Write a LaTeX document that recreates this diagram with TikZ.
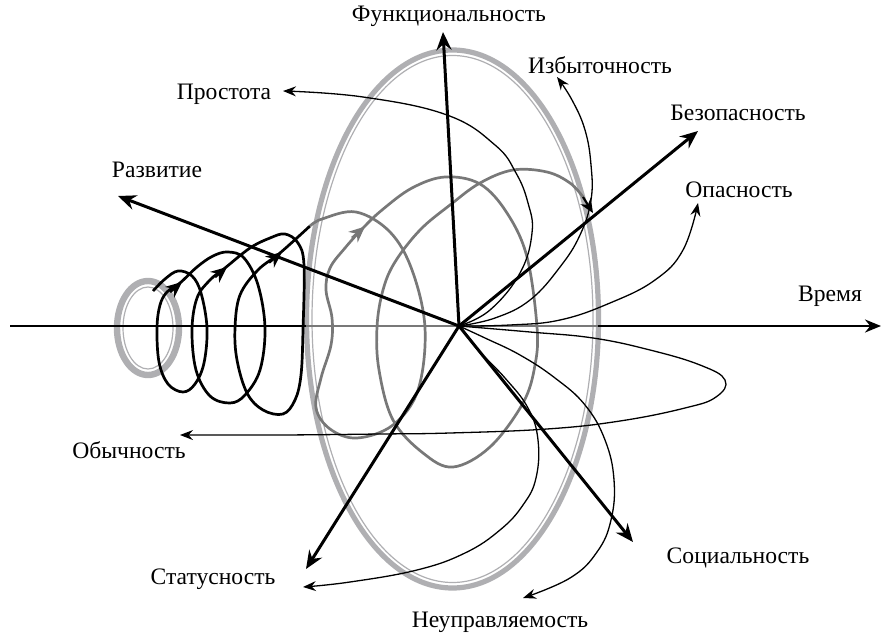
\documentclass[tikz,border=0pt]{standalone}
\usepackage{fontspec}
\setmainfont{Liberation Serif}
\usetikzlibrary{arrows.meta}
\definecolor{ringgray}{RGB}{175,175,178}
\definecolor{spiralgray}{RGB}{120,120,120}
\begin{document}
\begin{tikzpicture}[x=0.5pt,y=-0.5pt,
  ax/.style={line width=1.5pt, -{Stealth[length=9pt,width=7.5pt,inset=3pt]}},
  thinarr/.style={line width=0.65pt, -{Stealth[length=6.5pt,width=5pt,inset=2.2pt]}},
  lbl/.style={font=\fontsize{11.8}{14}\selectfont, inner sep=0pt},
  ringthick/.style={draw=ringgray, line width=2.6pt},
  ringthin/.style={draw=ringgray, line width=0.6pt},
  spb/.style={line width=1.35pt, draw=black},
  spg/.style={line width=1.35pt, draw=spiralgray},
  sptipb/.style={line width=1.35pt, black, -{Stealth[length=8pt,width=7pt,inset=2.6pt]}},
  sptipg/.style={line width=1.35pt, spiralgray, -{Stealth[length=8pt,width=7pt,inset=2.6pt]}},
]
\useasboundingbox (0,0) rectangle (881,636);

% rings
\draw[ringthick] (452.5,319) ellipse [x radius=146, y radius=269];
\draw[ringthin] (452.5,319) ellipse [x radius=140.5, y radius=263.5];
\draw[line width=3.2pt, draw=ringgray] (148,328) ellipse [x radius=31, y radius=47];
\draw[ringthin] (148,328) ellipse [x radius=25, y radius=41];

% coordinates
\coordinate (C) at (459,326);
\coordinate (tL) at (10,326);
\coordinate (eL) at (306,326);
\coordinate (eR) at (598,326);
\coordinate (tR) at (881,326);

% horizontal axis
\draw[line width=1.25pt] (tL) -- (eL);
\draw[line width=1pt, spiralgray] (eL) -- (eR);
\draw[line width=1.25pt, -{Stealth[length=8pt,width=6.5pt,inset=2.6pt]}] (eR) -- (tR);

% spiral: black part
\draw[spb] plot[smooth, tension=0.6] coordinates {
 (153,291) (165,279) (178,271) (192,276) (201,293) (207,328) (204,363) (195,384)
 (183,392) (168,384) (159,362) (157,328) (160,305) (167,292) (180,283) (197,267)
 (213,256) (228,252) (244,258) (258,285) (265,328) (260,370) (245,395) (230,403)
 (210,396) (196,370) (192,330) (197,298) (210,280) (225,268) (250,248) (270,238)
 (285,234) (298,243) (304,265) (303,330) (301,375) (295,400) (283,414) (263,410)
 (247,393) (237,360) (235,328) (240,295) (258,270) (280,253) (310,226)};
% spiral: gray part
\draw[spg] plot[smooth, tension=0.6] coordinates {
 (310,226) (322,219) (356,212) (390,232) (412,270) (425,328) (418,390) (393,425)
 (357,438) (330,429) (316,408) (321,378) (331,345) (332,318) (326,290) (330,268)
 (345,248) (363,228) (382,210) (412,188) (445,177) (480,184) (507,213) (527,257)
 (537,327) (535,365) (523,403) (490,447) (453,467) (423,453) (393,420) (379,370)
 (377,327) (383,290) (395,262) (420,230) (450,205) (480,183) (513,170) (547,172)
 (570,183) (583,197)};
\draw[line width=1.1pt, -{Stealth[length=7pt,width=6pt,inset=2.2pt]}] (583,197) -- (593,213);
% spiral arrows
\draw[sptipb] (170,292) -- (182,282);
\draw[sptipb] (215,277) -- (227,267);
\draw[sptipb] (269,262.5) -- (282,252);
\draw[sptipg] (352,238) -- (365,226.5);

% label nodes
\node[lbl] (nFunc) at (449,16) {Функциональность};
\node[lbl] (nIzb) at (600,65) {Избыточность};
\node[lbl] (nProst) at (224,94) {Простота};
\node[lbl] (nBez) at (738,113) {Безопасность};
\node[lbl] (nRaz) at (157,170) {Развитие};
\node[lbl] (nOpas) at (739,190) {Опасность};
\node[lbl] (nVr) at (830,296) {Время};
\node[lbl] (nObych) at (129,450) {Обычность};
\node[lbl] (nSoc) at (738,558) {Социальность};
\node[lbl] (nStat) at (213,579) {Статусность};
\node[lbl] (nNeup) at (500,622) {Неуправляемость};

% axis tips
\coordinate (aFunc) at (443,32);
\coordinate (aBez) at (698,131);
\coordinate (aRaz) at (118,196);
\coordinate (aStat) at (306,569);
\coordinate (aSoc) at (633,542);

\draw[ax] (C) -- (aFunc);
\draw[ax] (C) -- (aBez);
\draw[ax] (C) -- (aRaz);
\draw[ax] (C) -- (aStat);
\draw[ax] (C) -- (aSoc);

% curved thin arrows
\coordinate (cProst) at (283,91);
\coordinate (cIzb) at (557,77);
\coordinate (cOpas) at (698,203);
\coordinate (cObych) at (180,435);
\coordinate (cStat) at (303,587);
\coordinate (cNeup) at (523,598);

\draw[thinarr] plot[smooth, tension=0.7] coordinates {(C) (490,310) (520,273) (532,233) (528,203) (516,173) (495,145) (447,115) (363,97) (cProst)};
\draw[thinarr] plot[smooth, tension=0.7] coordinates {(C) (495,318) (530,300) (560,267) (580,235) (591,200) (591,165) (585,130) (572,100) (cIzb)};
\draw[thinarr] plot[smooth, tension=0.7] coordinates {(C) (510,325) (560,320) (610,303) (655,280) (683,250) (cOpas)};
\draw[thinarr] plot[smooth, tension=0.7] coordinates {(C) (530,332) (593,338) (650,350) (700,365) (725,380) (716,397) (685,408) (620,421) (547,429) (450,433) (380,434) (280,435) (cObych)};
\draw[thinarr] plot[smooth, tension=0.7] coordinates {(C) (478,350) (505,378) (528,408) (538,440) (536,478) (523,505) (500,530) (465,553) (417,570) (350,582) (cStat)};
\draw[thinarr] plot[smooth, tension=0.7] coordinates {(C) (485,338) (520,355) (555,378) (585,405) (605,440) (614,480) (611,520) (597,552) (570,578) (cNeup)};
\end{tikzpicture}
\end{document}
